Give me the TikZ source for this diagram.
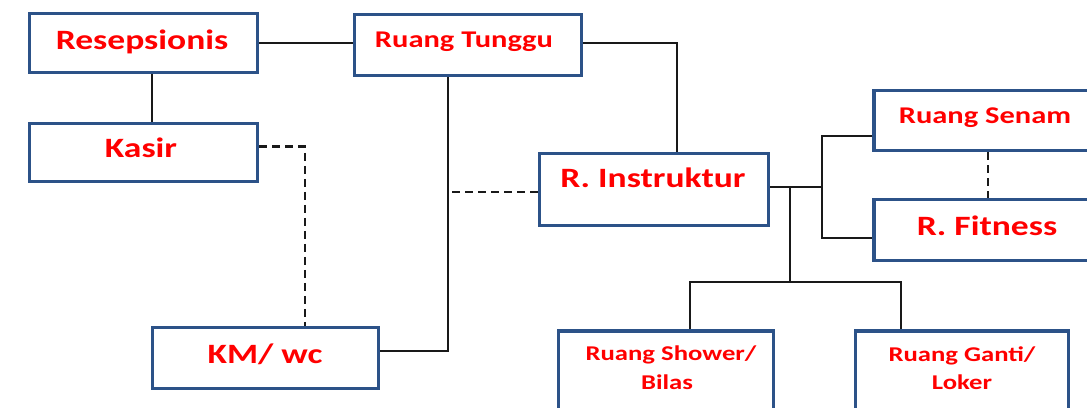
\documentclass[tikz,border=0pt]{standalone}
\usepackage{fontspec}
\newfontfamily\lblfont[FakeStretch=1.27]{Carlito}
\definecolor{boxblue}{RGB}{44,82,136}
\begin{document}
\begin{tikzpicture}[x=1pt,y=-1pt,
  box/.style={draw=boxblue, line width=3.8pt, fill=white, rectangle, inner sep=0pt},
  lbl/.style={text=red, anchor=base, inner sep=0pt, align=center,
    font=\lblfont\bfseries\fontsize{28}{30}\selectfont},
  lblm/.style={lbl, font=\lblfont\bfseries\fontsize{24}{26}\selectfont},
  lbls/.style={lbl, font=\lblfont\bfseries\fontsize{21}{29}\selectfont},
  link/.style={draw=black!90, line width=2.4pt},
  dlink/.style={link, dash pattern=on 8pt off 5pt}]
\path[use as bounding box, fill=white] (0,0) rectangle (1087,407);
\clip (0,0) rectangle (1087,407);

% rooms
\node[box, minimum width=228, minimum height=59] (resep)   at (143.5,43)   {};
\node[box, minimum width=228, minimum height=58] (kasir)   at (143.5,152.5){};
\node[box, minimum width=227, minimum height=61] (tunggu)  at (468,45)     {};
\node[box, minimum width=229, minimum height=72] (instr)   at (654,189.5)  {};
\node[box, minimum width=222, minimum height=60] (senam)   at (985,120.5)  {};
\node[box, minimum width=226, minimum height=61] (fitness) at (987,230)    {};
\node[box, minimum width=226, minimum height=61] (kmwc)    at (265.5,358)  {};
\node[box, minimum width=215, minimum height=84] (shower)  at (666,373)    {};
\node[box, minimum width=213, minimum height=84] (ganti)   at (962,373)    {};

% room names
\node[lbl]  (tresep)   at (142,49)  {Resepsionis};
\node[lbl]  (tkasir)   at (141,157) {Kasir};
\node[lblm] (ttunggu)  at (464,47)  {Ruang Tunggu};
\node[lbl]  (tinstr)   at (653,187) {R. Instruktur};
\node[lblm] (tsenam)   at (985,123) {Ruang Senam};
\node[lbl]  (tfitness) at (987,235) {R. Fitness};
\node[lbl]  (tkmwc)    at (265,363) {KM/ wc};
\node[lbls] (tshower1) at (671,360) {Ruang Shower/};
\node[lbls] (tshower2) at (667,389) {Bilas};
\node[lbls] (tganti1)  at (962,361) {Ruang Ganti/};
\node[lbls] (tganti2)  at (962,389) {Loker};

% connection points
\coordinate (resepS)  at ([xshift=8.5]resep.south);
\coordinate (kasirN)  at ([xshift=8.5]kasir.north);
\coordinate (kasirE)  at ([yshift=6]kasir.east);
\coordinate (kmwcN)   at ([xshift=39.5]kmwc.north);
\coordinate (kmwcE)   at ([yshift=7]kmwc.east);
\coordinate (tungguS) at ([xshift=-20]tunggu.south);
\coordinate (tungguE) at ([yshift=2]tunggu.east);
\coordinate (instrN)  at ([xshift=23]instr.north);
\coordinate (instrW)  at ([yshift=-2.5]instr.west);
\coordinate (instrE)  at ([yshift=2.5]instr.east);
\coordinate (senamW)  at ([yshift=-15.5]senam.west);
\coordinate (fitW)    at ([yshift=-8]fitness.west);
\coordinate (senamS)  at ([xshift=3]senam.south);
\coordinate (fitN)    at ([xshift=1]fitness.north);
\coordinate (showerN) at ([xshift=24]shower.north);
\coordinate (gantiN)  at ([xshift=-61]ganti.north);
\coordinate (trunk)   at (822,187);
\coordinate (drop)    at (790,187);
\coordinate (split)   at (790,282);

% connectors
\draw[link] (resep.east) -- (resep.east -| tunggu.west);
\draw[link] (resepS) -- (kasirN);
\draw[dlink] (kasirE) -| (kmwcN);
\draw[link] (tungguS) |- (kmwcE);
\draw[link] (tungguE) -| (instrN);
\draw[dlink] (instrW) -- (instrW -| tungguS);
\draw[link] (instrE) -- (trunk);
\draw[link] (senamW) -| (trunk) |- (fitW);
\draw[link] (drop) -- (split);
\draw[link] (showerN) |- (split) -| (gantiN);
\draw[dlink] (senamS) -- (senamS |- fitN);
\end{tikzpicture}
\end{document}
